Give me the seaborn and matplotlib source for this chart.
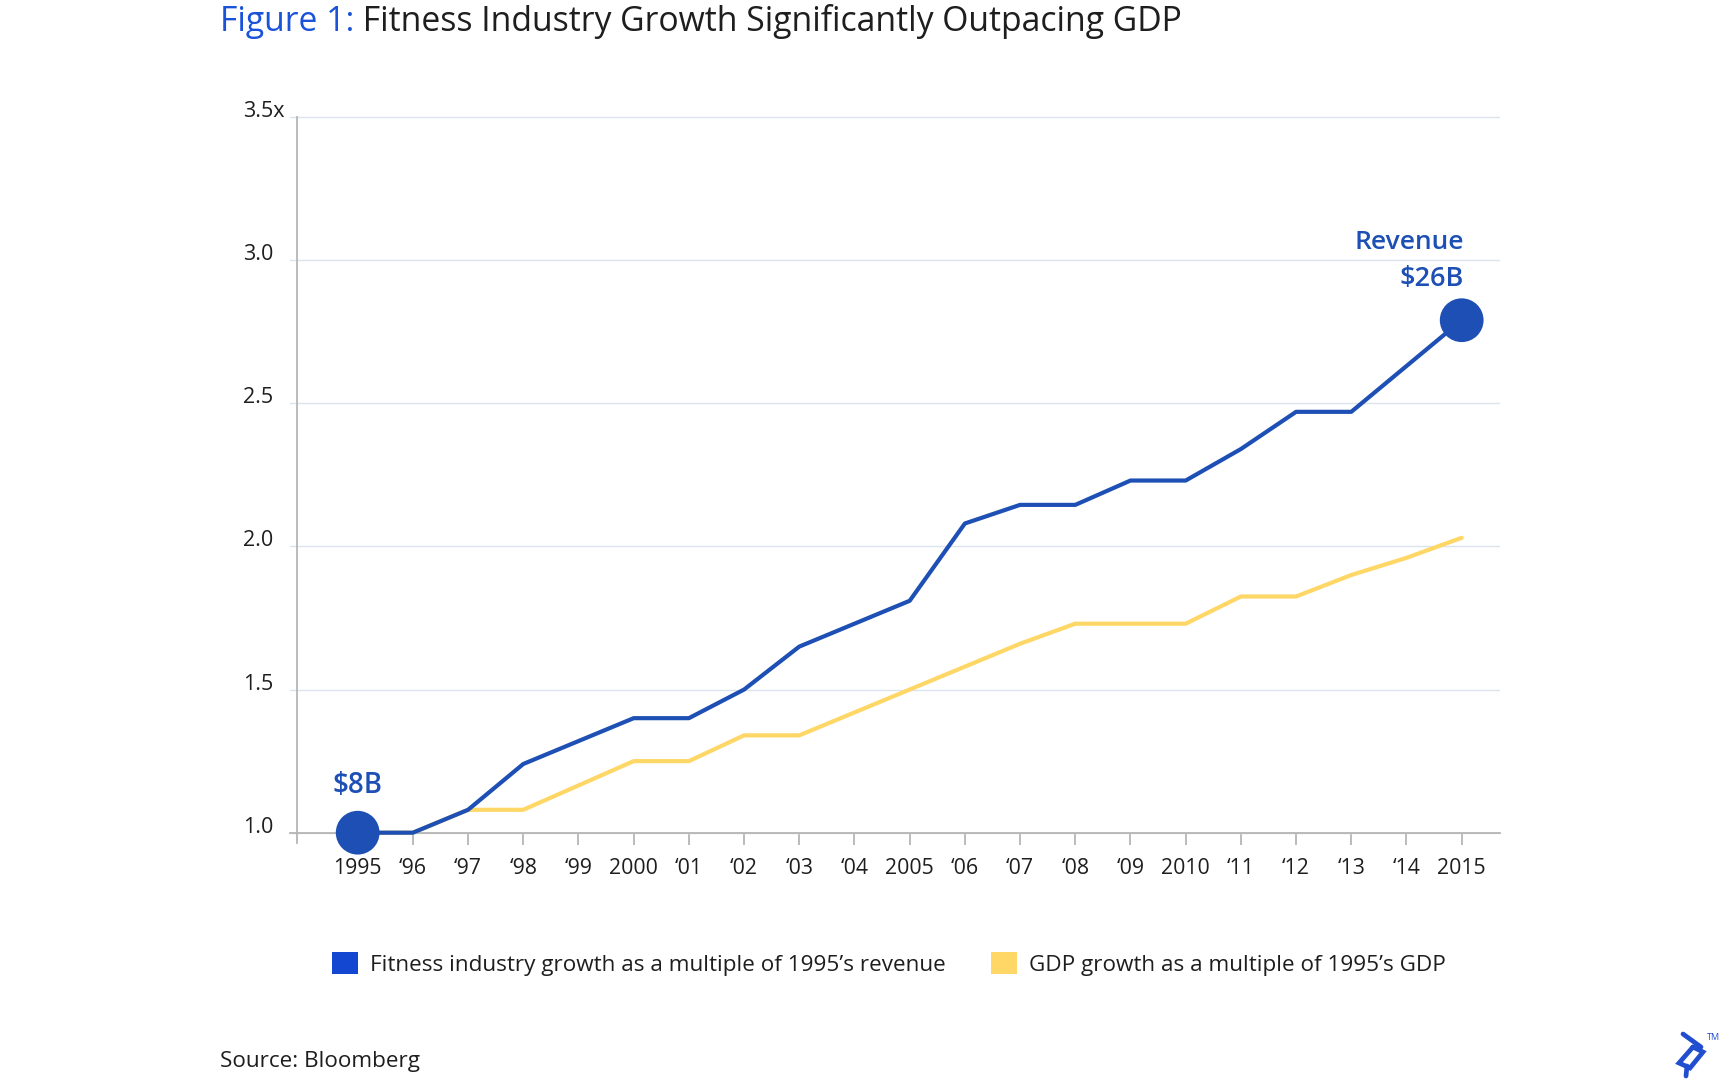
import numpy as np
import pandas as pd
import matplotlib
matplotlib.use("Agg")
import matplotlib.pyplot as plt
from matplotlib.patches import Patch
from matplotlib.lines import Line2D
import seaborn as sns

# ---- data ----
years = list(range(1995, 2016))
year_labels = ["1995", "\u201896", "\u201897", "\u201898", "\u201899", "2000",
               "\u201801", "\u201802", "\u201803", "\u201804", "2005",
               "\u201806", "\u201807", "\u201808", "\u201809", "2010",
               "\u201811", "\u201812", "\u201813", "\u201814", "2015"]
fitness = [1.00, 1.00, 1.08, 1.24, 1.32, 1.40, 1.40, 1.50, 1.65, 1.73, 1.81,
           2.08, 2.145, 2.145, 2.23, 2.23, 2.34, 2.47, 2.47, 2.63, 2.79]
gdp = [1.00, 1.00, 1.08, 1.08, 1.165, 1.25, 1.25, 1.34, 1.34, 1.42, 1.50,
       1.58, 1.66, 1.73, 1.73, 1.73, 1.825, 1.825, 1.90, 1.96, 2.03]
y_ticks = [1.0, 1.5, 2.0, 2.5, 3.0, 3.5]
y_tick_labels = ["1.0", "1.5", "2.0", "2.5", "3.0", "3.5x"]
fit_name = "Fitness industry growth as a multiple of 1995\u2019s revenue"
gdp_name = "GDP growth as a multiple of 1995\u2019s GDP"

BLUE = "#1d4fb4"
LEG_BLUE = "#1447d1"
YELLOW = "#fed766"
GRID = "#dbe3ee"
AXIS = "#b5b5b5"
TXT = "#1e1e1e"

sns.set_theme(style="white")
plt.rcParams["font.family"] = ["Open Sans", "DejaVu Sans"]

df = pd.DataFrame({
    "year": years * 2,
    "value": fitness + gdp,
    "series": [fit_name] * len(years) + [gdp_name] * len(years),
})

W, H = 1720, 1080
fig = plt.figure(figsize=(W / 100, H / 100), dpi=100)
ax = fig.add_axes([290 / W, 1 - 843 / H, 1210 / W, (843 - 115.5) / H])

sns.lineplot(data=df, x="year", y="value", hue="series",
             hue_order=[gdp_name, fit_name],
             palette={fit_name: BLUE, gdp_name: YELLOW},
             linewidth=3.0, legend=False, ax=ax, zorder=3)

ends = pd.DataFrame({"year": [years[0], years[-1]],
                     "value": [fitness[0], fitness[-1]]})
sns.scatterplot(data=ends, x="year", y="value", s=31.5 ** 2, color=BLUE,
                edgecolor="none", ax=ax, zorder=4)
for coll in ax.collections:
    coll.set_clip_on(False)

ax.set_xlim(1993.774, 2015.694)
ax.set_ylim(0.964, 3.505)

# spines
for s in ["top", "right"]:
    ax.spines[s].set_visible(False)
ax.spines["bottom"].set_position(("data", 1.0))
ax.spines["left"].set_position(("data", 1993.906))
ax.spines["left"].set_bounds(0.964, 3.5)
for s in ["bottom", "left"]:
    ax.spines[s].set_color(AXIS)
    ax.spines[s].set_linewidth(1.3)

ax.set_yticks(y_ticks)
ax.set_yticklabels(y_tick_labels)
ax.yaxis.grid(True, color=GRID, linewidth=1.0)
ax.set_axisbelow(True)
ax.tick_params(axis="y", length=0, pad=39, labelsize=15.5, labelcolor=TXT)
for lab in ax.get_yticklabels():
    lab.set_horizontalalignment("left")
    lab.set_verticalalignment("baseline")

ax.set_xticks(years)
ax.set_xticklabels(year_labels)
ax.tick_params(axis="x", direction="out", length=8.6, width=1.3, color=AXIS,
               pad=9.5, labelsize=15.3, labelcolor=TXT, bottom=True)
ax.set_xlabel("")
ax.set_ylabel("")

# annotations
ax.annotate("\\$8B", xy=(years[0], fitness[0]), xytext=(0, 34),
            textcoords="offset points", ha="center", va="center",
            color=BLUE, fontsize=20, fontweight="semibold")
ax.annotate("Revenue", xy=(years[-1], fitness[-1]), xytext=(1.5, 56),
            textcoords="offset points", ha="right", va="center",
            color=BLUE, fontsize=19, fontweight="semibold")
ax.annotate("\\$26B", xy=(years[-1], fitness[-1]), xytext=(1.5, 29.5),
            textcoords="offset points", ha="right", va="center",
            color=BLUE, fontsize=19.5, fontweight="semibold")

# title
t1 = fig.text(220 / W, 1 - 31 / H, "Figure 1:", color="#1a52d9",
              fontsize=24.3, ha="left", va="baseline")
ax.annotate(" Fitness Industry Growth Significantly Outpacing GDP",
            xy=(1, 0), xycoords=t1, ha="left", va="bottom",
            color=TXT, fontsize=24.3, annotation_clip=False)

# legend
handles = [Patch(facecolor=LEG_BLUE, edgecolor="none"),
           Patch(facecolor=YELLOW, edgecolor="none")]
fig.legend(handles, [fit_name, gdp_name], loc="center",
           bbox_to_anchor=(889 / W, 1 - 964 / H), ncol=2, frameon=False,
           fontsize=16.2, handlelength=1.15, handleheight=1.15,
           handletextpad=0.55, columnspacing=2.0, labelcolor=TXT)

# source
fig.text(220 / W, 1 - 1061 / H, "Source: Bloomberg", color=TXT,
         fontsize=16.2, ha="left", va="center")

# logo mark
def px(x, y):
    return x / W, 1 - y / H

logo_col = "#204ecf"
segs = [[(1683, 1034), (1701, 1047)],
        [(1693, 1047), (1703, 1052), (1690, 1068), (1679, 1063), (1693, 1047)],
        [(1687, 1066), (1686, 1076)]]
for seg in segs:
    xs, ys = zip(*[px(*p) for p in seg])
    fig.add_artist(Line2D(xs, ys, color=logo_col, linewidth=3.4,
                          solid_joinstyle="miter", transform=fig.transFigure))
fig.text(*px(1713, 1038), "TM", color=logo_col, fontsize=6.5,
         ha="center", va="center")

fig.savefig("out.png", dpi=100)
